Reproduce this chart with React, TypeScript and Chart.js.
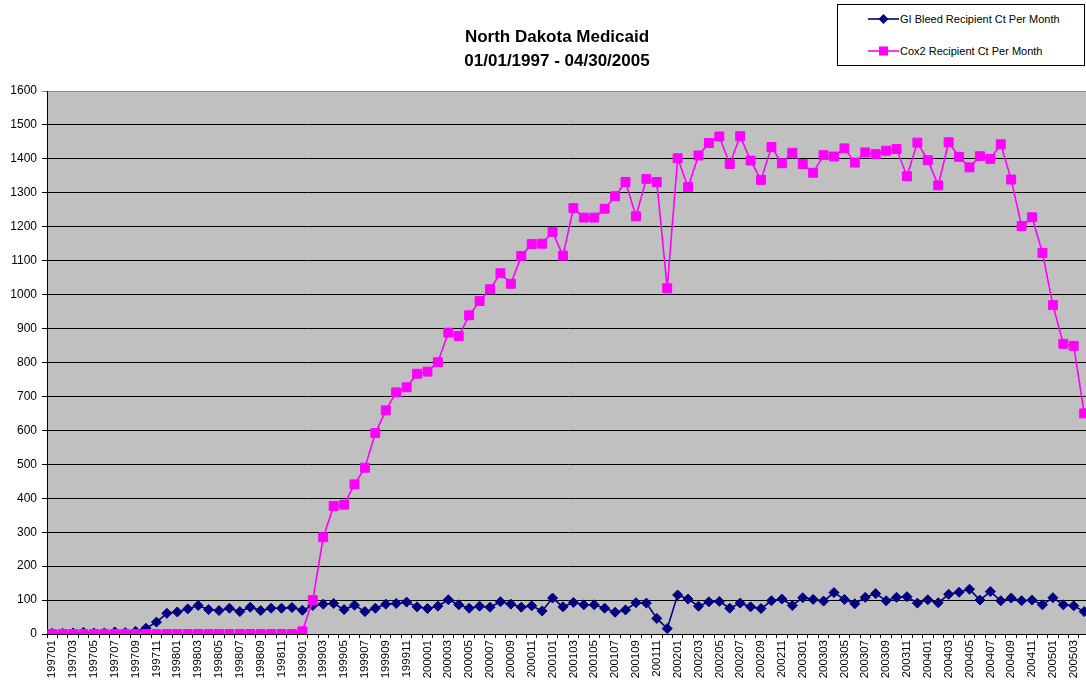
import React, { useEffect, useRef } from "react";
import { Chart, registerables } from "chart.js";

Chart.register(...registerables);

const months: string[] = [
  "199701", "199702", "199703", "199704", "199705", "199706", "199707", "199708", "199709", "199710", "199711", "199712",
  "199801", "199802", "199803", "199804", "199805", "199806", "199807", "199808", "199809", "199810", "199811", "199812",
  "199901", "199902", "199903", "199904", "199905", "199906", "199907", "199908", "199909", "199910", "199911", "199912",
  "200001", "200002", "200003", "200004", "200005", "200006", "200007", "200008", "200009", "200010", "200011", "200012",
  "200101", "200102", "200103", "200104", "200105", "200106", "200107", "200108", "200109", "200110", "200111", "200112",
  "200201", "200202", "200203", "200204", "200205", "200206", "200207", "200208", "200209", "200210", "200211", "200212",
  "200301", "200302", "200303", "200304", "200305", "200306", "200307", "200308", "200309", "200310", "200311", "200312",
  "200401", "200402", "200403", "200404", "200405", "200406", "200407", "200408", "200409", "200410", "200411", "200412",
  "200501", "200502", "200503", "200504",
];

const giBleed: number[] = [
  2, 2, 3, 5, 3, 3, 6, 4, 8, 17,
  35, 61, 65, 74, 84, 72, 69, 76, 66, 79,
  69, 76, 76, 78, 70, 84, 88, 90, 72, 85,
  66, 76, 88, 90, 94, 80, 75, 82, 101, 86,
  76, 82, 79, 95, 88, 79, 83, 68, 106, 80,
  93, 86, 86, 76, 64, 71, 92, 91, 46, 16,
  115, 103, 82, 95, 96, 76, 91, 80, 75, 98,
  103, 84, 107, 102, 97, 122, 102, 89, 108, 119,
  98, 108, 110, 91, 101, 92, 117, 123, 132, 100,
  125, 98, 106, 98, 100, 86, 107, 86, 83, 66,
];

const cox2: number[] = [
  0, 0, 0, 0, 0, 0, 0, 0, 0, 0,
  0, 0, 0, 0, 0, 0, 0, 0, 0, 0,
  0, 0, 0, 0, 8, 100, 285, 377, 381, 441,
  490, 592, 659, 712, 727, 767, 773, 801, 888, 878,
  939, 981, 1016, 1063, 1032, 1114, 1149, 1150, 1185, 1115,
  1255, 1227, 1227, 1253, 1290, 1332, 1231, 1341, 1332, 1019,
  1402, 1317, 1410, 1447, 1466, 1385, 1467, 1395, 1338, 1435,
  1387, 1418, 1385, 1359, 1411, 1407, 1431, 1389, 1419, 1414,
  1424, 1429, 1349, 1448, 1396, 1322, 1449, 1406, 1375, 1408,
  1400, 1443, 1339, 1202, 1228, 1123, 969, 855, 849, 650,
];

const yTicks = { min: 0, max: 1600, step: 100 };

const seriesNames = ["GI Bleed Recipient Ct Per Month", "Cox2 Recipient Ct Per Month"];
const titleLines = ["North Dakota Medicaid", "01/01/1997 - 04/30/2005"];

const NAVY = "#000080";
const MAGENTA = "#FF00FF";
const FONT = "'Liberation Sans', Arial, Helvetica, sans-serif";

const plotBg = {
  id: "plotBg",
  beforeDraw(chart: any) {
    const { ctx, chartArea } = chart;
    ctx.save();
    ctx.fillStyle = "#C0C0C0";
    ctx.fillRect(chartArea.left, chartArea.top, chartArea.right - chartArea.left, chartArea.bottom - chartArea.top);
    ctx.restore();
  },
};

export default function App() {
  const ref = useRef<HTMLCanvasElement | null>(null);

  useEffect(() => {
    if (!ref.current) return;
    const chart = new Chart(ref.current, {
      type: "line",
      data: {
        labels: months,
        datasets: [
          {
            label: seriesNames[0],
            data: giBleed,
            borderColor: NAVY,
            backgroundColor: NAVY,
            borderWidth: 1.6,
            pointStyle: "rectRot",
            pointRadius: 5,
            pointBorderWidth: 1,
            tension: 0,
            order: 1,
          },
          {
            label: seriesNames[1],
            data: cox2,
            borderColor: MAGENTA,
            backgroundColor: MAGENTA,
            borderWidth: 1.6,
            pointStyle: "rect",
            pointRadius: 6.3,
            pointBorderWidth: 1,
            tension: 0,
            order: 0,
          },
        ],
      },
      options: {
        animation: false,
        responsive: false,
        devicePixelRatio: 1,
        layout: { padding: { top: 91, right: 6, left: 0, bottom: 0 } },
        plugins: {
          legend: { display: false },
          title: { display: false },
          tooltip: { enabled: false },
        },
        scales: {
          x: {
            type: "category",
            offset: true,
            grid: {
              display: true,
              drawOnChartArea: false,
              drawTicks: true,
              tickLength: 4,
              offset: true,
              color: "#000",
            },
            border: { display: true, color: "#000", width: 1 },
            ticks: {
              autoSkip: false,
              minRotation: 90,
              maxRotation: 90,
              padding: 2,
              color: "#000",
              font: { family: FONT, size: 11.5 },
              callback: (_v: any, i: number) => (i % 2 === 0 ? months[i] : ""),
            },
            afterFit: (s: any) => {
              s.height = 52;
            },
          },
          y: {
            min: yTicks.min,
            max: yTicks.max,
            grid: {
              color: (c: any) => (c.tick && c.tick.value === yTicks.max ? "#8a8a8a" : "#000"),
              lineWidth: 1,
              tickLength: 5,
              drawTicks: true,
            },
            border: { display: true, color: "#000", width: 1 },
            ticks: {
              stepSize: yTicks.step,
              padding: 5,
              color: "#000",
              font: { family: FONT, size: 12 },
              callback: (v: any) => String(v),
            },
            afterFit: (s: any) => {
              s.width = 47;
            },
          },
        },
      },
      plugins: [plotBg],
    });
    return () => chart.destroy();
  }, []);

  const legendRow = (i: number, top: number) => (
    <div
      key={i}
      style={{ position: "absolute", left: 0, top: top - 8, height: 16, display: "flex", alignItems: "center" }}
    >
      <svg width={62} height={16} style={{ display: "block" }}>
        <line x1={30} y1={8} x2={61} y2={8} stroke={i === 0 ? NAVY : MAGENTA} strokeWidth={1.6} />
        {i === 0 ? (
          <polygon points="45.5,3 50.5,8 45.5,13 40.5,8" fill={NAVY} />
        ) : (
          <rect x={41} y={3.5} width={9} height={9} fill={MAGENTA} />
        )}
      </svg>
      <span style={{ font: `11px ${FONT}`, color: "#000", whiteSpace: "nowrap" }}>{seriesNames[i]}</span>
    </div>
  );

  return (
    <div
      style={{
        position: "fixed",
        left: 0,
        top: 0,
        width: 1086,
        height: 686,
        overflow: "hidden",
        background: "#fff",
      }}
    >
      <canvas ref={ref} width={1100} height={686} style={{ position: "absolute", left: 0, top: 0 }} />
      <div
        style={{
          position: "absolute",
          left: 357,
          top: 25,
          width: 400,
          textAlign: "center",
          font: `bold 17px ${FONT}`,
          lineHeight: "24px",
          color: "#000",
        }}
      >
        {titleLines.map((t, i) => (
          <div key={i}>{t}</div>
        ))}
      </div>
      <div
        style={{
          position: "absolute",
          left: 837,
          top: 4,
          width: 248,
          height: 62,
          border: "1px solid #000",
          boxSizing: "border-box",
          background: "#fff",
        }}
      >
        {legendRow(0, 14)}
        {legendRow(1, 46)}
      </div>
    </div>
  );
}
